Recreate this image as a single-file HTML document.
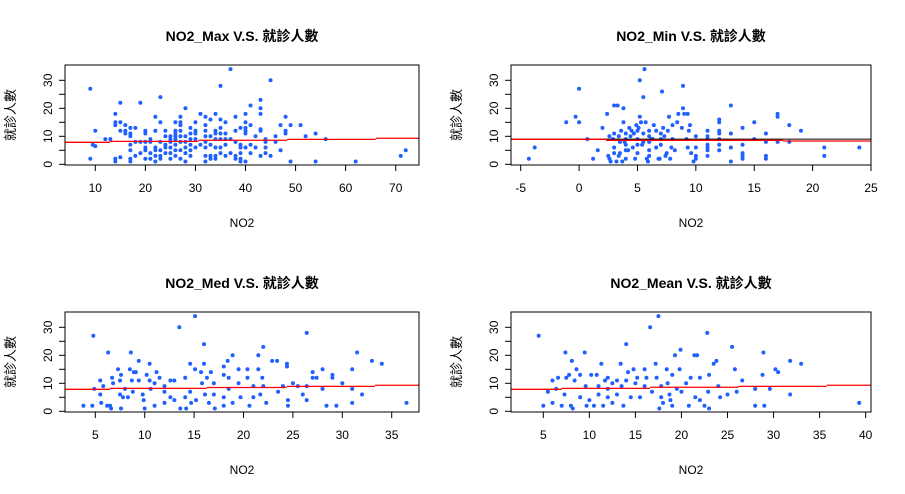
<!DOCTYPE html>
<html><head><meta charset="utf-8"><style>
html,body{margin:0;padding:0;background:#fff;}
svg{display:block;font-family:"Liberation Sans","Noto Sans CJK TC",sans-serif;}
</style></head><body>
<svg id="c" width="905" height="494"></svg>
<script>
// ---- data ----
const p1X=[9,9,9.5,10,10,12,13,14,14,14,14,14,15,15,15,15,16,16,16,17,17,17,17,17,17,17,18,18,18,19,19,19,20,20,20,20,20,20,21,21,21,21,22,22,22,22,22,22,23,23,23,23,23,23,24,24,24,24,24,25,25,25,25,25,25,26,26,26,26,26,26,26,26,27,27,27,27,27,27,27,27,28,28,28,28,28,28,29,29,29,29,29,29,30,30,30,30,30,31,31,32,32,32,32,32,32,32,32,33,33,33,33,33,34,34,34,34,34,34,34,35,35,35,35,35,35,35,36,36,36,36,36,37,37,37,38,38,38,38,38,39,39,39,39,39,39,40,40,40,40,40,40,40,41,41,41,41,42,42,43,43,43,43,43,43,44,44,44,44,45,45,46,46,47,47,48,48,48,49,49,51,52,54,54,56,62,71,72];
const p1Y=[27,2,7,12,6.5,9,9,2,1,15,14,18,22,2.5,12,15,14,11,12,11,13,10,7,5,1,2,13,3,8,22,4,8,2,6,8,11,12,5,8,4,2,9,17,12,6,5,3,1,24,15,8,5,3,2,12,10,7,6,4,10,9,8,6,4,2,15,12,11,10,9,7,5,3,17,15,14,12,10,8,5,2,20,10,8,6,4,1,13,11,9,7,5,3,15,12,11,9,6,18,7,17,14,12,10,8,6,3,1,16,10,7,3,2,18,12,11,9,6,3,2,28,16,13,11,9,6,4,15,11,9,7,3,34,4,9,17,12,8,3,2,13,7,6,4,2,1,18,15,13,12,11,6,1,21,14,7,4,10,6,23,20,18,12,12.5,3,9,8,6,4,30,3,10,8,14,5,17,12,11,14,1,14,10,11,1,9,1,3,5];
const p2X=[-4.3,-3.8,-1.1,0,-0.3,0,0.7,1.2,1.6,2,2.6,2.4,2.5,2.6,2.7,3,3,3,3,3.2,3.3,3.4,3.5,3.6,3.5,3.7,3.8,3.8,4,4,4,4,4,4.3,4.5,4.6,4.8,4.9,5,5,5,5,5.2,5.2,5.3,5.5,5.5,5.5,5.6,5.7,5.8,5.9,6,6,6,6,6,6.3,6.4,6.6,6.8,7,7,7,7.1,7.2,7.4,7.5,7.6,7.7,7.8,7.9,8,8,8.4,8.5,8.8,8.9,8.9,9,9.2,9.3,9.3,9.4,9.5,9.6,9.8,10,10,10,10,11,11,11,11,11,11,11,12,12,12,12,12,12,12,13,13,13,13,14,14,14,14,14,15,15,16,16,16,16,17,17,17,18,18,19,21,21,24,4.4,4.7,5.1,5.4,6.2,6.6,3.9,4.2,2.9,3.4,6.9,7.3,8.2];
const p2Y=[2,6,15,27,17,15,9,2,5,13,10,18,3,2,1,21,11,6,4,1,21,10,8,12,4,1,15,20,7,11,9,5,2,13,12,6,2,14,12,9,7,4,30,17,15,11,8,24,34,15,2,1,12,10,8,5,3,9,14,6,2,11,9,7,26,13,3,4,12,17,2,6,14,9,15,18,13,28,20,18,9,18,6,12,14,4,1,10,6,3,2,12,10,9,7,6,5,3,16,15,12,11,9,7,5,21,11,6,1,13,7,4,3,2,15,9,11,8,3,2,18,17,8,14,8,12,6,3,6,10,11,13,7,9,12,8,5,9,3,2,10,5,8];
const p3X=[3.8,4.7,4.8,4.9,5.5,5.5,5.6,5.8,6.2,6.3,6.5,6.6,6.7,6.8,7.3,7.5,7.6,7.5,7.6,7.8,8,8.3,8.5,8.6,8.7,8.8,8.9,9.1,9.4,9.4,9.8,9.9,10,10.2,10.5,10.5,10.6,11,11,11.2,11.5,12,12,12,12.6,12.6,13,13,13.5,13.6,14.1,14.1,14.2,14.6,14.6,14.7,15.1,15.1,15.2,15.7,15.8,16,16,16.1,16.3,16.5,16.7,17,17,17.1,18,18,18,18,18.4,18.5,18.5,18.9,18.9,19.5,19.5,19.7,20.4,20.4,20.6,21,21,21.5,21.5,21.7,21.9,22,22,22.3,22.9,23.4,23.5,24,24.4,24.4,24.5,24.5,25,25.5,26,26.4,26.4,26.4,27,27,27.4,28,28,28.4,29,29,29.4,30,31,31,31,31.5,32,33,34,36.5];
const p3Y=[2,2,27,8,11,6,3,9,2,21,2,1,12,10,15,11,13,6,1,5,8,5,15,21,11,7,14,14,18,11,6,4,1,13,17,11,8,2,10,14,12,9,7,3,11,5,11,4,30,1,12,5,1,17,7,3,34,15,4,14,10,24,17,6,12,3,14,10,6,1,16,13,5,2,18,12,8,20,3,15,10,5,15,12,2,9,5,20,15,6,12,23,9,3,18,18,7,9,17,16,4,2,10,9,6,28,9,4,14,12,12,15,8,2,13,12,2,10,15,8,3,21,6,18,17,3];
const p4X=[4.5,5,5.5,6,6,6.4,6.6,7,7.3,7.4,7.5,7.8,8,8.1,8.2,8.4,8.6,9,9,9.5,9.6,9.7,10,10.2,10.5,10.8,11,11,11.3,11.5,11.7,12,12,12,12.5,12.5,13,13,13.4,13.5,13.7,14,14,14.2,14.5,14.8,15,15.2,15.5,16,16,16.2,16.6,16.8,17.2,17.3,17.5,17.6,17.8,17.8,18,18.4,18.5,18.7,18.8,19,19,19.3,19.5,19.8,19.9,20,20.5,20.8,21,21.4,21.5,21.7,22,22,22.5,22.8,22.9,23,23,23.5,23.8,24,24.2,25,25.5,25.8,26,26.6,28,28,28.8,28.9,29,29.6,30.2,30.5,31.8,31.8,33,39.3];
const p4Y=[27,2,7,3,11,8,12,2,6,21,12,13,2,18,1,11,15,5,13,21,9,2,4,13,2,13,6,9,17,2,11,12,8,5,3,10,11,6,17,9,2,24,11,14,5,15,10,12,5,9,15,12,30,7,17,12,34,1,9,5,3,15,10,6,4,2,13,20,8,15,22,7,10,2,12,20,5,20,12,4,2,28,7,1,13,17,18,9,5,6,23,15,7,11,8,2,13,21,2,8,15,14,6,18,17,3];
// step fit: breaks and levels
const p1Breaks=[12.9,30.6,48.3,66], p1Levels=[7.86,8.2,8.6,8.9,9.3];
const p2Breaks=[2.31,17.46], p2Levels=[8.93,8.57,8.33];
const p3Breaks=[6.48,16.27,24.37,33.3], p3Levels=[7.86,8.2,8.5,8.9,9.3];
const p4Breaks=[6.99,16.59,26.18,35.77], p4Levels=[7.86,8.2,8.6,8.9,9.3];
const p1Ticks=[10,20,30,40,50,60,70], p2Ticks=[-5,0,5,10,15,20,25], p3Ticks=[5,10,15,20,25,30,35], p4Ticks=[5,10,15,20,25,30,35,40];
const yTicks=[0,10,20,30], yMinor=[0,5,10,15,20,25,30];

const NS='http://www.w3.org/2000/svg';
const svg=document.getElementById('c');
function mk(t,a,p){const e=document.createElementNS(NS,t);for(const k in a)e.setAttribute(k,a[k]);(p||svg).appendChild(e);return e;}

const panels=[
 {name:'max',title:'NO2_Max V.S. 就診人數',X:p1X,Y:p1Y,br:p1Breaks,lv:p1Levels,ticks:p1Ticks,x0:65,x1:419,dx0:10,px0:95.3,ppu:5.007,oy:0,mean:false},
 {name:'min',title:'NO2_Min V.S. 就診人數',X:p2X,Y:p2Y,br:p2Breaks,lv:p2Levels,ticks:p2Ticks,x0:511,x1:871,dx0:-5,px0:520.7,ppu:11.677,oy:0,mean:true},
 {name:'med',title:'NO2_Med V.S. 就診人數',X:p3X,Y:p3Y,br:p3Breaks,lv:p3Levels,ticks:p3Ticks,x0:65,x1:419,dx0:5,px0:95.3,ppu:9.88,oy:247,mean:false},
 {name:'mean',title:'NO2_Mean V.S. 就診人數',X:p4X,Y:p4Y,br:p4Breaks,lv:p4Levels,ticks:p4Ticks,x0:511,x1:871,dx0:5,px0:543.3,ppu:9.21,oy:247,mean:false}
];
panels.forEach(P=>{
  const g=mk('g',{});
  
  
  const xs=v=>P.px0+(v-P.dx0)*P.ppu;
  const ys=v=>P.oy+164.3-v*2.8;
  const top=P.oy+65, bot=P.oy+165;
  const cx=(P.x0+P.x1)/2;
  const t=mk('text',{x:cx,y:P.oy+41,'text-anchor':'middle','font-size':'14','font-weight':'bold'},g);t.textContent=P.title;
  
  // points
  P.X.forEach((xv,i)=>{const c=mk('circle',{cx:xs(xv),cy:ys(P.Y[i]),r:2,fill:'#2060ff'},g);
    });
  // mean line
  if(P.mean){const l=mk('line',{x1:P.x0,x2:P.x1,y1:ys(9.0),y2:ys(9.0),stroke:'#000','stroke-width':1},g);
    }
  // step line
  const edges=[P.x0,...P.br.map(xs),P.x1];
  P.lv.forEach((lv,i)=>{const l=mk('line',{x1:edges[i],x2:edges[i+1],y1:ys(lv),y2:ys(lv),stroke:'#ff0000','stroke-width':1.3},g);
    });
  // box
  const b=mk('rect',{x:P.x0,y:top,width:P.x1-P.x0,height:bot-top,fill:'none',stroke:'#000','stroke-width':1},g);
  
  // x axis
  const xa=mk('g',{},g);
  const tx=P.ticks.map(xs);
  mk('line',{x1:tx[0],x2:tx[tx.length-1],y1:bot,y2:bot,stroke:'#000'},xa);
  P.ticks.forEach((v,i)=>{mk('line',{x1:tx[i],x2:tx[i],y1:bot,y2:bot+6,stroke:'#000'},xa);
    const tl=mk('text',{x:tx[i],y:bot+27,'text-anchor':'middle','font-size':'12'},xa);tl.textContent=v;
    });
  const xl=mk('text',{x:cx,y:P.oy+227,'text-anchor':'middle','font-size':'12'},g);xl.textContent='NO2';
  
  // y axis
  const ya=mk('g',{},g);
  mk('line',{x1:P.x0,x2:P.x0,y1:ys(0),y2:ys(30),stroke:'#000'},ya);
  yMinor.forEach(v=>mk('line',{x1:P.x0-6,x2:P.x0,y1:ys(v),y2:ys(v),stroke:'#000'},ya));
  yTicks.forEach(v=>{const yl=mk('text',{x:0,y:0,'text-anchor':'middle','font-size':'12',transform:`translate(${P.x0-13},${ys(v)}) rotate(-90)`},ya);yl.textContent=v;
    });
  const yt=mk('text',{x:0,y:0,'text-anchor':'middle','font-size':'13',transform:`translate(${P.x0-50},${(top+bot)/2}) rotate(-90)`},g);yt.textContent='就診人數';
  
});
</script>
</body></html>
